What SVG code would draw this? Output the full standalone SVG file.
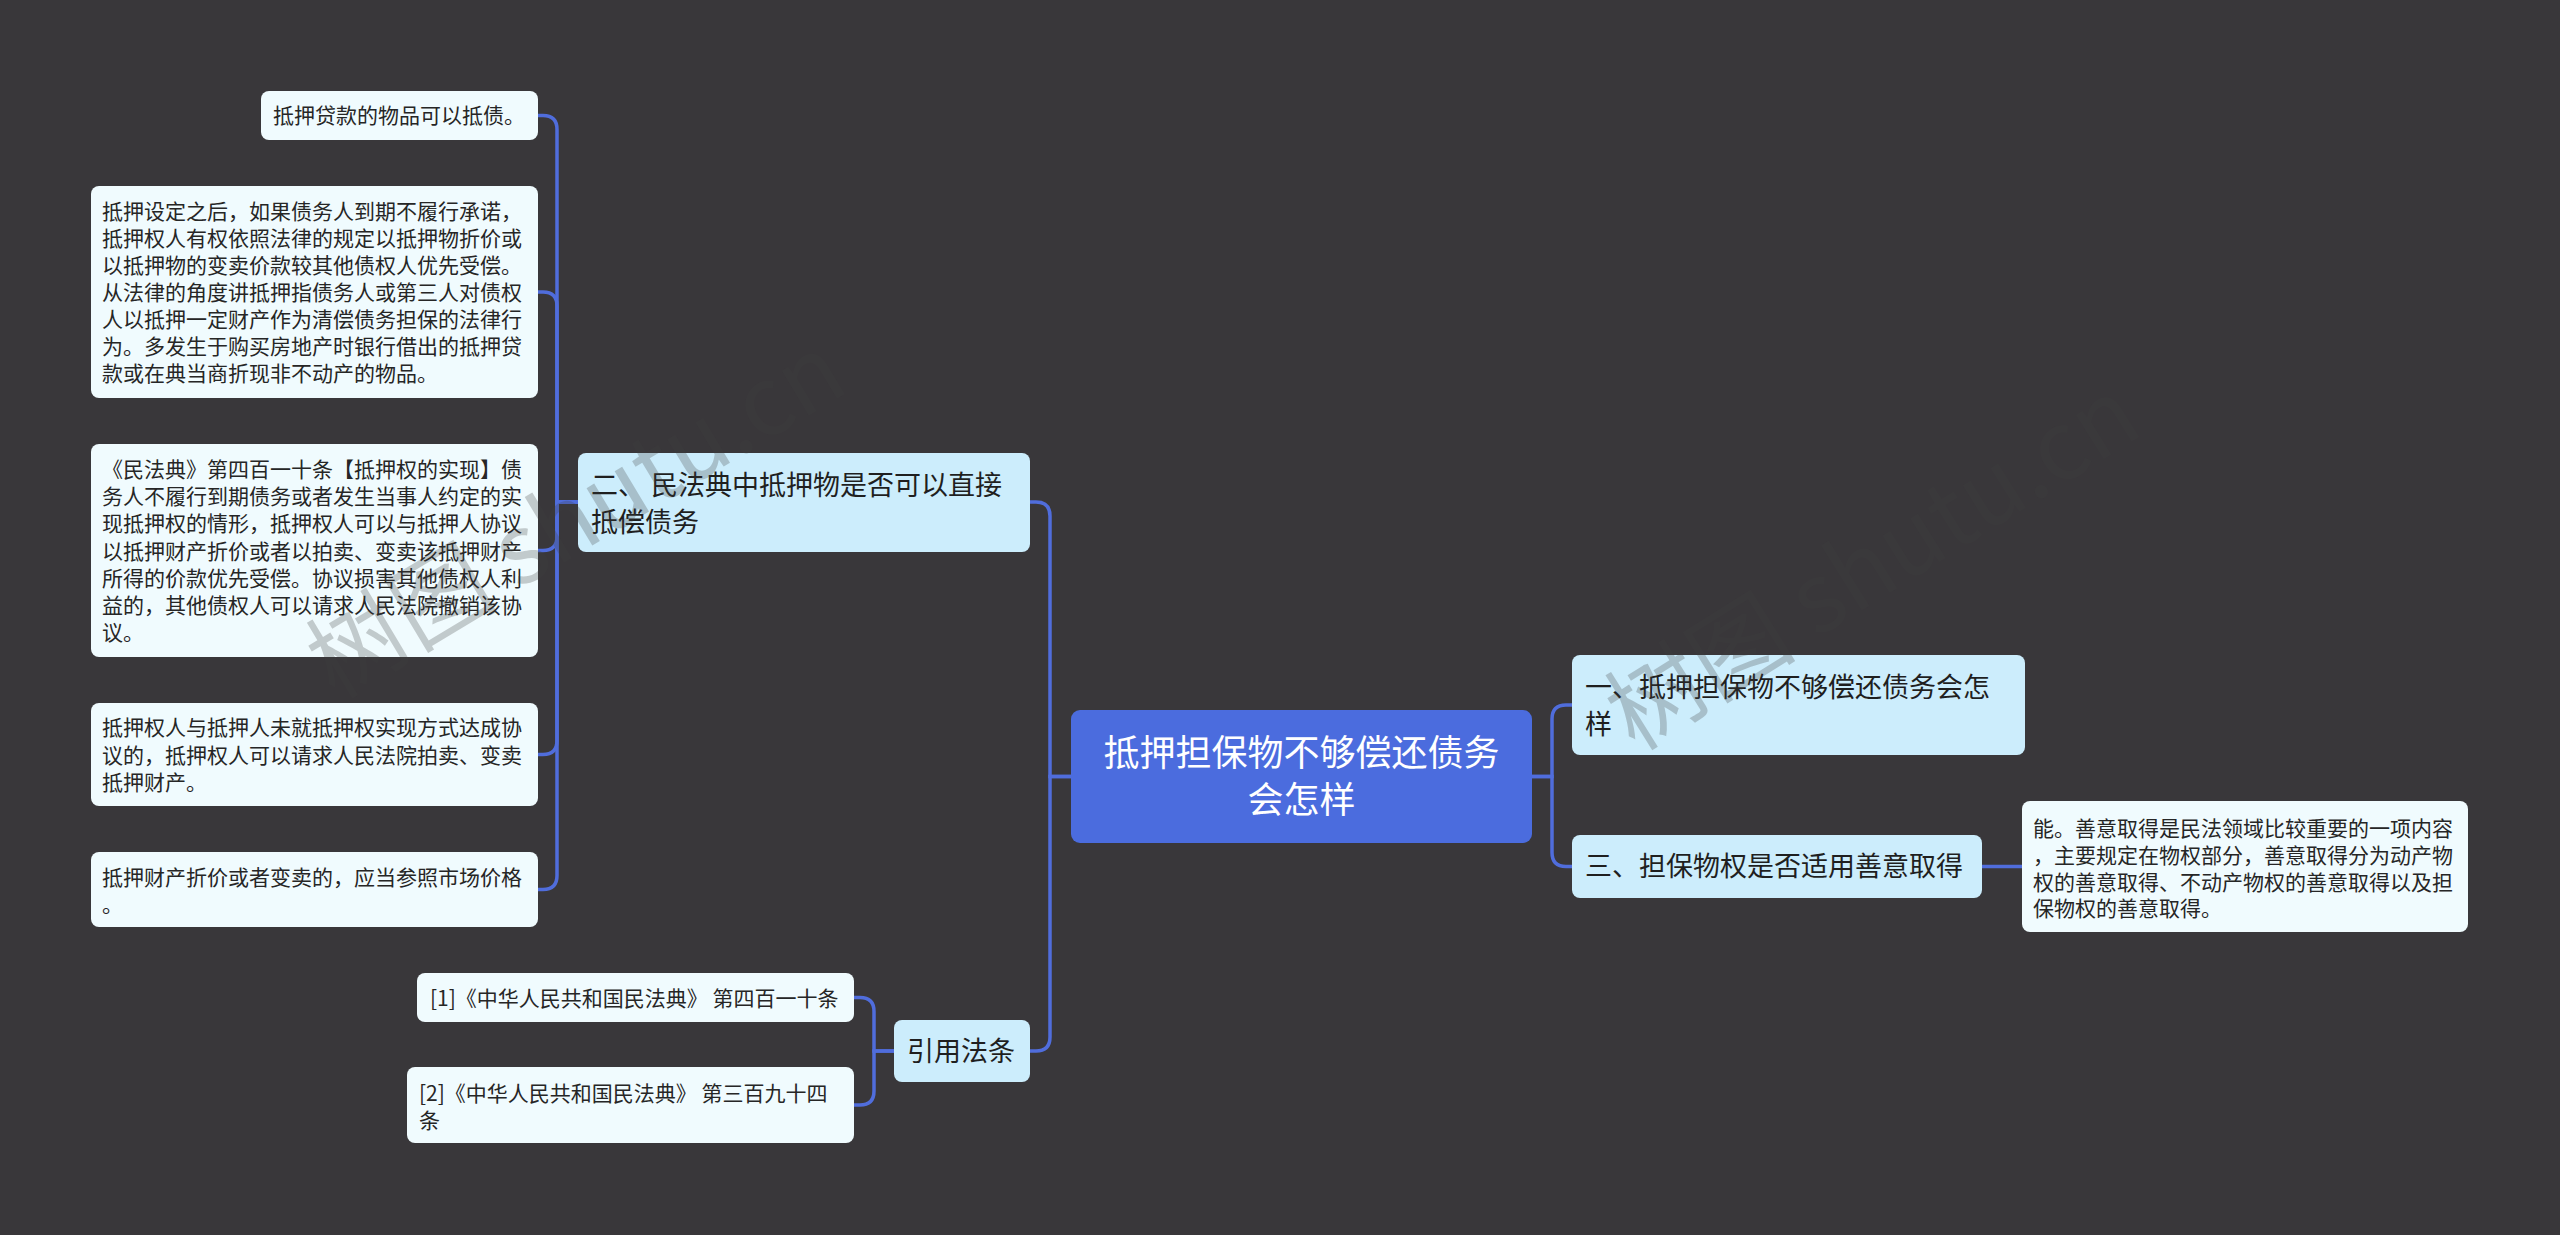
<svg xmlns="http://www.w3.org/2000/svg" width="2560" height="1235" viewBox="0 0 2560 1235">
<style>
text{font-family:"Noto Sans CJK SC","Noto Sans",sans-serif;}
.leaf rect{fill:#f0fbfe;}
.leaf text{font-size:21px;fill:#262626;}
.l1 rect{fill:#ccedfc;}
.l1 text{font-size:27px;fill:#1f1f1f;}
.root rect{fill:#4b6cde;}
.root text{font-size:36px;fill:#fff;text-anchor:middle;}
.conn path{fill:none;stroke:#506ddc;stroke-width:3.5;stroke-linecap:round;}
.wm{font-size:96px;fill:#404040;opacity:0.26;}
</style>
<rect x="0" y="0" width="2560" height="1235" fill="#39373a"/>
<g class="conn" id="connectors">
<path d="M1071 776.5 H1050 V516 Q1050 502 1036 502 H1030"/>
<path d="M1071 776.5 H1050 V1037 Q1050 1051 1036 1051 H1030"/>
<path d="M1532 776.5 H1552 V719 Q1552 705 1566 705 H1572"/>
<path d="M1532 776.5 H1552 V852.5 Q1552 866.5 1566 866.5 H1572"/>
<path d="M1982 866.5 H2022"/>
<path d="M578 502 H557 V129.5 Q557 115.5 543 115.5 H538"/>
<path d="M578 502 H557 V306 Q557 292 543 292 H538"/>
<path d="M578 502 H557 V536.5 Q557 550.5 543 550.5 H538"/>
<path d="M578 502 H557 V740.5 Q557 754.5 543 754.5 H538"/>
<path d="M578 502 H557 V875.5 Q557 889.5 543 889.5 H538"/>
<path d="M894 1051 H874 V1011.5 Q874 997.5 860 997.5 H854"/>
<path d="M894 1051 H874 V1091 Q874 1105 860 1105 H854"/>
</g>
<g class="root" id="root">
<rect x="1071" y="710" width="461" height="133" rx="9"/>
<text x="1301.5" y="766">抵押担保物不够偿还债务</text>
<text x="1301.5" y="813">会怎样</text>
</g>
<g class="l1" id="n1">
<rect x="1572" y="655" width="453" height="100" rx="8"/>
<text x="1585" y="697">一、抵押担保物不够偿还债务会怎</text>
<text x="1585" y="734">样</text>
</g>
<g class="l1" id="n3">
<rect x="1572" y="835" width="410" height="63" rx="8"/>
<text x="1585" y="876">三、担保物权是否适用善意取得</text>
</g>
<g class="leaf" id="n3a">
<rect x="2022" y="801" width="446" height="131" rx="8"/>
<text x="2033" y="835.6">能。善意取得是民法领域比较重要的一项内容</text>
<text x="2033" y="862.6">，主要规定在物权部分，善意取得分为动产物</text>
<text x="2033" y="889.6">权的善意取得、不动产物权的善意取得以及担</text>
<text x="2033" y="915.6">保物权的善意取得。</text>
</g>
<g class="l1" id="n2">
<rect x="578" y="453" width="452" height="99" rx="8"/>
<text x="591" y="495">二、 民法典中抵押物是否可以直接</text>
<text x="591" y="532">抵偿债务</text>
</g>
<g class="leaf" id="n2a">
<rect x="261" y="91" width="277" height="49" rx="8"/>
<text x="273" y="123">抵押贷款的物品可以抵债。</text>
</g>
<g class="leaf" id="n2b">
<rect x="91" y="186" width="447" height="212" rx="8"/>
<text x="102" y="218.6">抵押设定之后，如果债务人到期不履行承诺，</text>
<text x="102" y="245.6">抵押权人有权依照法律的规定以抵押物折价或</text>
<text x="102" y="272.6">以抵押物的变卖价款较其他债权人优先受偿。</text>
<text x="102" y="299.6">从法律的角度讲抵押指债务人或第三人对债权</text>
<text x="102" y="326.6">人以抵押一定财产作为清偿债务担保的法律行</text>
<text x="102" y="353.6">为。多发生于购买房地产时银行借出的抵押贷</text>
<text x="102" y="380.6">款或在典当商折现非不动产的物品。</text>
</g>
<g class="leaf" id="n2c">
<rect x="91" y="444" width="447" height="213" rx="8"/>
<text x="102" y="476.6">《民法典》第四百一十条【抵押权的实现】债</text>
<text x="102" y="503.9">务人不履行到期债务或者发生当事人约定的实</text>
<text x="102" y="531.2">现抵押权的情形，抵押权人可以与抵押人协议</text>
<text x="102" y="558.5">以抵押财产折价或者以拍卖、变卖该抵押财产</text>
<text x="102" y="585.8">所得的价款优先受偿。协议损害其他债权人利</text>
<text x="102" y="613.1">益的，其他债权人可以请求人民法院撤销该协</text>
<text x="102" y="640.4">议。</text>
</g>
<g class="leaf" id="n2d">
<rect x="91" y="703" width="447" height="103" rx="8"/>
<text x="102" y="735">抵押权人与抵押人未就抵押权实现方式达成协</text>
<text x="102" y="762.5">议的，抵押权人可以请求人民法院拍卖、变卖</text>
<text x="102" y="790">抵押财产。</text>
</g>
<g class="leaf" id="n2e">
<rect x="91" y="852" width="447" height="75" rx="8"/>
<text x="102" y="884.6">抵押财产折价或者变卖的，应当参照市场价格</text>
<text x="102" y="911.6">。</text>
</g>
<g class="l1" id="n4">
<rect x="894" y="1020" width="136" height="62" rx="8"/>
<text x="907" y="1061">引用法条</text>
</g>
<g class="leaf" id="n4a">
<rect x="417" y="973" width="437" height="49" rx="8"/>
<text x="430" y="1005.6">[1]《中华人民共和国民法典》 第四百一十条</text>
</g>
<g class="leaf" id="n4b">
<rect x="407" y="1067" width="447" height="76" rx="8"/>
<text x="419" y="1100.6">[2]《中华人民共和国民法典》 第三百九十四</text>
<text x="419" y="1127.6">条</text>
</g>
<g id="watermarks">
<text class="wm" transform="translate(335 700) rotate(-31)">树图 shutu.cn</text>
<text class="wm" transform="translate(1635 752) rotate(-32)">树图 shutu.cn</text>
</g>
</svg>
